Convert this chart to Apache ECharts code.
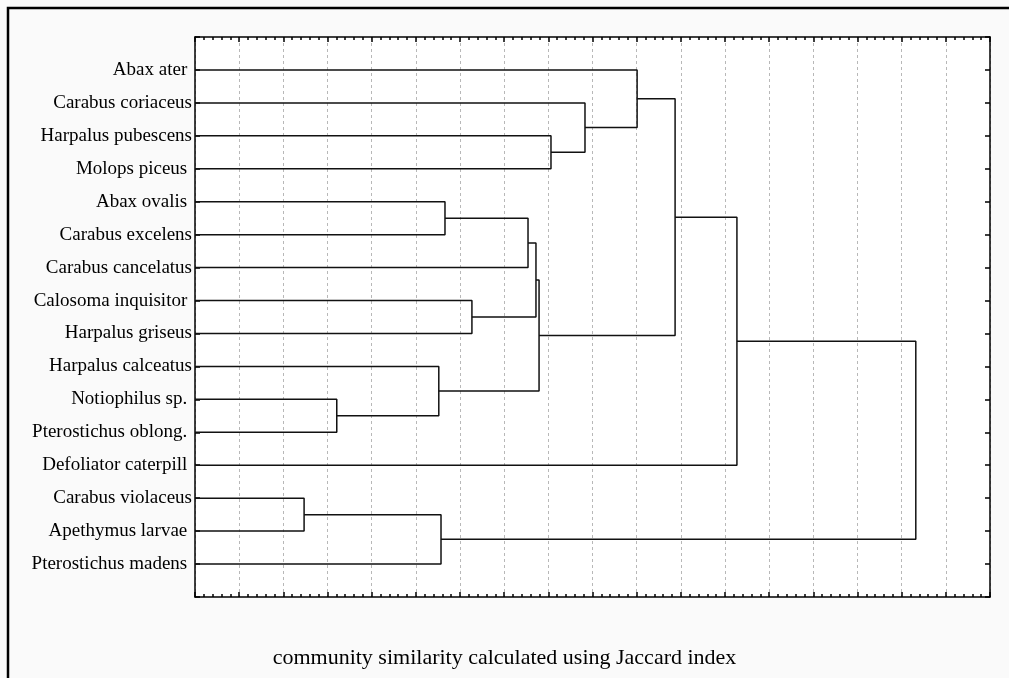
<!DOCTYPE html>
<html>
<head>
<meta charset="utf-8">
<script src="https://cdn.jsdelivr.net/npm/echarts@6/dist/echarts.min.js"></script>
<style>
  html, body { margin: 0; padding: 0; background: #fafafa; }
  #chart { width: 1009px; height: 678px; }
</style>
</head>
<body>
<div id="chart"></div>
<script>
// leaves, top to bottom
const leaves = [
  'Abax ater ', 'Carabus coriaceus', 'Harpalus pubescens', 'Molops piceus ',
  'Abax ovalis ', 'Carabus excelens', 'Carabus cancelatus', 'Calosoma inquisitor ',
  'Harpalus griseus', 'Harpalus calceatus', 'Notiophilus sp. ', 'Pterostichus oblong. ',
  'Defoliator caterpill ', 'Carabus violaceus', 'Apethymus larvae ', 'Pterostichus madens '
]
// merges: [upper child, lower child], new cluster ids start at 16
const mergeA = [13, 10, 9, 16, 4, 7, 20, 22, 23, 2, 1, 0, 27, 28, 29]
const mergeB = [14, 11, 17, 15, 5, 8, 6, 21, 18, 3, 25, 26, 24, 12, 19]
const mergeHeight = [2.47, 3.21, 5.52, 5.57, 5.66, 6.27, 7.54, 7.72, 7.79, 8.06, 8.83, 10.01, 10.87, 12.27, 16.32]

let myChart = echarts.init(document.getElementById('chart'))

// node positions: leaves at row 1..16, height 0
let nodeY = leaves.map((_, i) => i + 1)
let nodeH = leaves.map(() => 0)
let linkSeries = []
mergeA.forEach((a, i) => {
  let b = mergeB[i]
  let h = mergeHeight[i]
  linkSeries.push({
    type: 'line',
    silent: true,
    symbol: 'none',
    animation: false,
    lineStyle: { color: '#111', width: 1.5 },
    data: [[nodeH[a], nodeY[a]], [h, nodeY[a]], [h, nodeY[b]], [nodeH[b], nodeY[b]]]
  })
  nodeY.push((nodeY[a] + nodeY[b]) / 2)
  nodeH.push(h)
})

const serif = '"Liberation Serif", "Times New Roman", serif'
const axisBase = {
  type: 'value', min: 0, max: 18, interval: 1,
  axisLine: { show: true, onZero: false, lineStyle: { color: '#000', width: 1.5 } },
  axisTick: { inside: true, length: 5, lineStyle: { color: '#000', width: 1.5 } },
  minorTick: { show: true, splitNumber: 5, length: 3, lineStyle: { color: '#000', width: 1.5 } },
  axisLabel: { show: false }
}
const rowAxis = {
  type: 'value', min: 0, max: 17, interval: 1, inverse: true,
  axisLine: { show: true, onZero: false, lineStyle: { color: '#000', width: 1.5 } },
  axisTick: { show: true, inside: true, length: 5, lineStyle: { color: '#000', width: 1.5 } },
  splitLine: { show: false }
}

let option = {
  backgroundColor: '#fafafa',
  animation: false,
  grid: { left: 195, top: 37, right: 19, bottom: 81, show: true, backgroundColor: '#fff', borderWidth: 0 },
  xAxis: [
    Object.assign({}, axisBase, {
      position: 'bottom',
      splitLine: { show: true, lineStyle: { color: '#b8b8b8', width: 1, type: [3, 3] } }
    }),
    Object.assign({}, axisBase, { position: 'top', splitLine: { show: false } })
  ],
  yAxis: [
    Object.assign({}, rowAxis, {
      position: 'left',
      axisLabel: {
        margin: 3, color: '#000', fontFamily: serif, fontSize: 19,
        formatter: v => leaves[v - 1] || ''
      }
    }),
    Object.assign({}, rowAxis, { position: 'right', axisLabel: { show: false } })
  ],
  graphic: [
    {
      type: 'rect', silent: true,
      shape: { x: 8, y: 8, width: 1020, height: 700 },
      style: { fill: 'none', stroke: '#000', lineWidth: 2.5 }
    },
    {
      type: 'text', silent: true, left: 'center', top: 647,
      style: { text: 'community similarity calculated using Jaccard index', font: '22px ' + serif, fill: '#000' }
    }
  ],
  series: linkSeries
}

myChart.setOption(option)
</script>
</body>
</html>
